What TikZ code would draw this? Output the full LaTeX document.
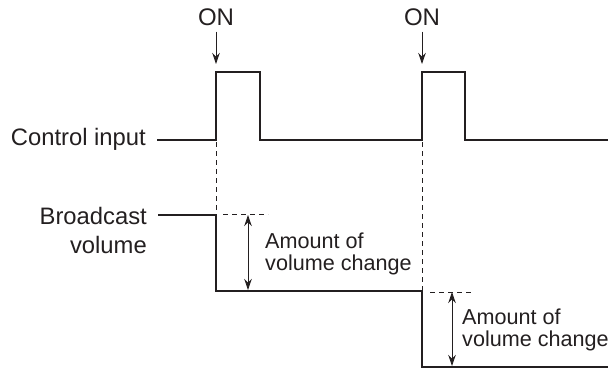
\documentclass[tikz,border=0pt]{standalone}
\usepackage{fontspec}
\setmainfont{Liberation Sans}
\usetikzlibrary{arrows.meta}
\definecolor{ink}{HTML}{231F20}

\begin{document}
\begin{tikzpicture}[x=1pt,y=-1pt,
    signal/.style={ink,line width=2.4pt,line join=miter},
    guide/.style={ink,line width=1pt,dash pattern=on 5pt off 4pt},
    pointer/.style={ink,line width=0.9pt,-{Stealth[length=11pt,width=7.5pt]}},
    span/.style={ink,line width=0.9pt,{Stealth[length=11pt,width=7.5pt]}-{Stealth[length=11pt,width=7.5pt]}},
    lbl/.style={text=ink,inner sep=0pt,font=\fontsize{23.8}{24}\selectfont},
    note/.style={text=ink,inner sep=0pt,anchor=west,align=left,font=\fontsize{21.6}{22}\selectfont}]

            \useasboundingbox (0,0) rectangle (610,369);

            % Eingangssignal
            \coordinate (c0) at (157,140);
            \coordinate (p1) at (216,72);
            \coordinate (p2) at (422,72);
            \draw[signal] (c0) -- (216,140) -- (p1) -- (260,72) -- (260,140)
                -- (422,140) -- (p2) -- (465,72) -- (465,140) -- (608,140);

            % Lautstaerke
            \coordinate (v0) at (158,215);
            \coordinate (v1) at (216,291);
            \coordinate (v2) at (422,367);
            \draw[signal] (v0) -- (216,215) -- (v1) -- (422,291) -- (v2) -- (608,367);

            % Beschriftung links
            \node[lbl,anchor=east] (ctrl) at (146,139) {Control input};
            \node[lbl,anchor=east,align=right,font=\fontsize{23.8}{29}\selectfont] (bcast) at (147,230) {Broadcast\\volume};

            % EIN
            \node[lbl,font=\fontsize{24}{24}\selectfont] (on1) at (216,17) {ON};
            \node[lbl,font=\fontsize{24}{24}\selectfont] (on2) at (422,17) {ON};
            \draw[pointer,shorten <=6pt,shorten >=8pt] (on1.south) -- (p1);
            \draw[pointer,shorten <=6pt,shorten >=8pt] (on2.south) -- (p2);

            % Hilfslinien
            \draw[guide] (216,142) -- (216,214);
            \draw[guide] (422,142) -- (422,290);
            \draw[guide] (223,214) -- (268,214);
            \draw[guide] (430,292) -- (473,292);

            % Aenderung
            \draw[span] (248,215) -- (248,290);
            \draw[span] (452,292) -- (452,366);
            \node[note] (amt1) at (265,254) {Amount of\\volume change};
            \node[note] (amt2) at (462,330) {Amount of\\volume change};

        \end{tikzpicture}
\end{document}
